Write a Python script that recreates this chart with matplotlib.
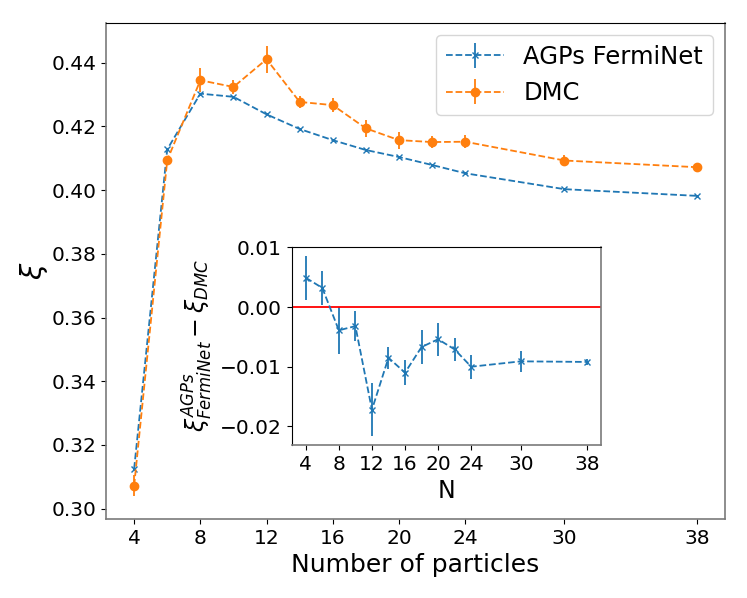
import matplotlib
matplotlib.use('Agg')
import matplotlib.pyplot as plt

# Number of particles
n_particles = [4, 6, 8, 10, 12, 14, 16, 18, 20, 22, 24, 30, 38]
tick_labels = [4, 8, 12, 16, 20, 24, 30, 38]

# xi for the AGPs FermiNet and DMC
xi_agps = [0.3125, 0.4128, 0.4303, 0.4293, 0.4238, 0.4192, 0.4157,
           0.4126, 0.4104, 0.4079, 0.4053, 0.4003, 0.3982]
xi_agps_err = [0.0003, 0.0003, 0.0003, 0.0003, 0.0003, 0.0003, 0.0003,
               0.0003, 0.0003, 0.0003, 0.0003, 0.0003, 0.0003]
xi_dmc = [0.3072, 0.4094, 0.4345, 0.4324, 0.4411, 0.4277, 0.4267,
          0.4194, 0.4157, 0.4151, 0.4152, 0.4093, 0.4072]
xi_dmc_err = [0.0034, 0.0010, 0.0037, 0.0021, 0.0043, 0.0018, 0.0021,
              0.0026, 0.0027, 0.0019, 0.0021, 0.0016, 0.0008]

# Difference AGPs FermiNet - DMC
diff = [0.0049, 0.0032, -0.0039, -0.0032, -0.0172, -0.0085, -0.0110,
        -0.0067, -0.0054, -0.0071, -0.0100, -0.0091, -0.0092]
diff_err = [0.0037, 0.0028, 0.0039, 0.0025, 0.0044, 0.0018, 0.0021,
            0.0028, 0.0028, 0.0019, 0.0020, 0.0018, 0.0005]

fig = plt.figure(figsize=(7.47, 5.98), dpi=100)

# Main plot
ax = fig.add_axes([0.1419, 0.1321, 0.8287, 0.8294])
ax.errorbar(n_particles, xi_agps, yerr=xi_agps_err, fmt='x--',
            color='tab:blue', markersize=5, linewidth=1.3,
            label='AGPs FermiNet')
ax.errorbar(n_particles, xi_dmc, yerr=xi_dmc_err, fmt='o--',
            color='tab:orange', markersize=6, linewidth=1.3, label='DMC')
ax.set_xticks(tick_labels)
ax.tick_params(labelsize=14.5)
ax.set_xlabel('Number of particles', fontsize=18)
ax.set_ylabel(r'$\xi$', fontsize=21, labelpad=1)
ax.legend(loc='upper right', fontsize=17.5, handlelength=2.4)
for side in ['left', 'bottom', 'right']:
    ax.spines[side].set_color('#7a7a7a')
    ax.spines[side].set_linewidth(1.2)

# Inset with the difference
axin = fig.add_axes([0.3905, 0.2559, 0.4141, 0.3316])
axin.errorbar(n_particles, diff, yerr=diff_err, fmt='x--',
              color='tab:blue', markersize=5, linewidth=1.3)
axin.axhline(0, color='red', linewidth=1.3)
axin.set_xticks(tick_labels)
axin.tick_params(labelsize=14.5)
axin.set_xlabel('N', fontsize=17)
axin.set_ylabel(r'$\xi^{AGPs}_{FermiNet} - \xi_{DMC}$', fontsize=17)
for side in ['bottom', 'right']:
    axin.spines[side].set_color('#7a7a7a')
    axin.spines[side].set_linewidth(1.2)

plt.savefig('out.png', dpi=100)
